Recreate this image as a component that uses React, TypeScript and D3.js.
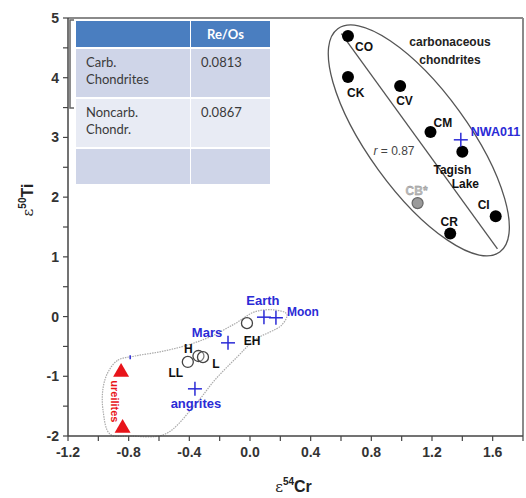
import React from 'react'
import * as d3 from 'd3'

// carbonaceous chondrites (black dots)
const carbNames = ['CO', 'CK', 'CV', 'CM', 'Tagish Lake', 'CI', 'CR']
const carbCr = [0.646, 0.646, 0.99, 1.19, 1.40, 1.62, 1.32]
const carbTi = [4.70, 4.01, 3.86, 3.09, 2.76, 1.68, 1.39]

// CB* (grey)
const cbCr = [1.105]
const cbTi = [1.90]

// ordinary / enstatite chondrites (open circles)
const ocNames = ['EH', 'H', 'L', 'LL']
const ocCr = [-0.02, -0.34, -0.31, -0.41]
const ocTi = [-0.11, -0.66, -0.68, -0.76]

// planetary bodies & achondrites (blue crosses)
const bodyNames = ['NWA011', 'Earth', 'Moon', 'Mars', 'angrites', '']
const bodyCr = [1.39, 0.092, 0.171, -0.145, -0.363, -0.79]
const bodyTi = [2.96, -0.01, -0.02, -0.44, -1.21, -0.68]

// ureilites (red triangles)
const ureCr = [-0.85, -0.84]
const ureTi = [-0.93, -1.87]

// ellipse around carbonaceous chondrites: major axis end points
const ellipseCr = [0.579, 1.647]
const ellipseTi = [4.82, 1.08]

// outline around the inner solar system group
const hullCr = [-0.936, -0.871, -0.758, -0.594, -0.429, -0.264, -0.10, 0.032, 0.164, 0.243, 0.21, 0.032, -0.086, -0.231, -0.363, -0.561, -0.79, -0.923, -0.969, -0.969]
const hullTi = [-0.93, -0.73, -0.66, -0.59, -0.49, -0.34, -0.12, 0.08, 0.11, 0.04, -0.14, -0.39, -0.68, -1.06, -1.48, -1.97, -2.0, -1.97, -1.57, -1.20]

const xTicks = [-1.2, -0.8, -0.4, 0.0, 0.4, 0.8, 1.2, 1.6]
const yTicks = [-2, -1, 0, 1, 2, 3, 4, 5]

// table
const tableHeader = ['', 'Re/Os']
const tableRows = [
  [['Carb.', 'Chondrites'], ['0.0813']],
  [['Noncarb.', 'Chondr.'], ['0.0867']],
  [[''], ['']],
]

// label offsets (px) relative to their point
const carbLabel: Record<string, [number, number, string][]> = {
  CO: [[7, 15, 'start']],
  CK: [[-1, 20, 'start']],
  CV: [[-4, 19, 'start']],
  CM: [[3, -5, 'start']],
  'Tagish Lake': [[-10, 22, 'middle'], [3, 36, 'middle']],
  CI: [[-12, -7, 'middle']],
  CR: [[-1, -8, 'middle']],
}
const ocLabel: Record<string, [number, number, string]> = {
  EH: [5, 22, 'middle'],
  H: [-10, -3, 'middle'],
  L: [13, 11, 'middle'],
  LL: [-12, 15, 'middle'],
}
const bodyLabel: Record<string, [number, number, string, number]> = {
  NWA011: [10, -4, 'start', 12.5],
  Earth: [-1, -12, 'middle', 13],
  Moon: [11, -2, 'start', 12],
  Mars: [-21, -6, 'middle', 13],
  angrites: [1, 19, 'middle', 13],
}

const W = 526
const H = 498
const BLUE = '#2b2bd6'
const RED = '#e8141a'
const AX = '#444'
const FONT = 'Liberation Sans, Arial, sans-serif'

const App = () => {
  const x = d3.scaleLinear().domain([-1.2, 1.8]).range([68, 523])
  const y = d3.scaleLinear().domain([-2, 5]).range([436, 18])
  const left = x(-1.2)
  const right = x(1.8)
  const top = y(5)
  const bottom = y(-2)

  const xMinor = d3.range(-1.2, 1.81, 0.2)
  const yMinor = d3.range(-2, 5.01, 0.5)

  // ellipse from its axis end points
  const ex0 = x(ellipseCr[0]), ey0 = y(ellipseTi[0])
  const ex1 = x(ellipseCr[1]), ey1 = y(ellipseTi[1])
  const ecx = (ex0 + ex1) / 2
  const ecy = (ey0 + ey1) / 2
  const erx = Math.hypot(ex1 - ex0, ey1 - ey0) / 2
  const eAngle = (Math.atan2(ey1 - ey0, ex1 - ex0) * 180) / Math.PI

  const hull = d3
    .line<number>()
    .x((d) => x(hullCr[d]))
    .y((d) => y(hullTi[d]))
    .curve(d3.curveCatmullRomClosed.alpha(0.5))(d3.range(hullCr.length))

  const tri = d3.symbol().type(d3.symbolTriangle).size(110)()

  // table geometry
  const tx = left + 8
  const colW = [115, 80]
  const rowH = [26, 48, 48, 35]

  return (
    <svg width={W} height={H} style={{ position: 'absolute', left: 0, top: 0, background: '#fff' }} fontFamily={FONT}>
      {/* frame */}
      <line x1={left} x2={right} y1={top} y2={top} stroke="#8a8a8a" strokeWidth={2} />
      <line x1={right} x2={right} y1={top} y2={bottom} stroke="#8a8a8a" strokeWidth={2} />

      {/* table */}
      <g>
        {(() => {
          const cells: React.ReactNode[] = []
          let yy = top + 3
          rowH.forEach((h, r) => {
            let xx = tx
            colW.forEach((w, c) => {
              const fill = r === 0 ? '#4a7ec0' : r % 2 === 1 ? '#cfd5e8' : '#e8ebf4'
              cells.push(<rect key={`c${r}${c}`} x={xx} y={yy} width={w - 1} height={h} fill={fill} />)
              const lines = r === 0 ? [tableHeader[c]] : tableRows[r - 1][c]
              lines.forEach((t, k) => {
                if (!t) return
                cells.push(
                  <text
                    key={`t${r}${c}${k}`}
                    x={xx + (r === 0 ? 16 : 10)}
                    y={r === 0 ? yy + 18 : yy + 18 + k * 17}
                    fontFamily="Lato, Open Sans, sans-serif"
                    fontSize={13}
                    fontWeight={r === 0 ? 'bold' : 'normal'}
                    fill={r === 0 ? '#fff' : '#3a3a3a'}
                  >
                    {t}
                  </text>
                )
              })
              xx += w
            })
            yy += h + 2
          })
          return cells
        })()}
      </g>

      {/* bracket at left */}
      <path d={`M${left + 6},${top + 2} H${left + 2} V${top + 90} H${left + 6}`} fill="none" stroke="#666" strokeWidth={1.5} />

      {/* hull around inner solar system */}
      <path d={hull || ''} fill="none" stroke="#aaa" strokeWidth={1.2} strokeDasharray="1.5,1" />

      {/* ellipse */}
      <g transform={`translate(${ecx},${ecy}) rotate(${eAngle})`}>
        <ellipse rx={erx} ry={50} fill="none" stroke="#555" strokeWidth={1.3} />
        <line x1={-erx + 6} x2={erx - 4} y1={0} y2={0} stroke="#555" strokeWidth={1.3} />
      </g>
      <text x={450} y={46} textAnchor="middle" fontSize={12} fontWeight="bold" fill="#222">carbonaceous</text>
      <text x={450} y={64} textAnchor="middle" fontSize={12} fontWeight="bold" fill="#222">chondrites</text>
      <text x={394} y={155} textAnchor="middle" fontSize={12} fill="#444">
        <tspan fontStyle="italic">r</tspan> = 0.87
      </text>

      {/* carbonaceous */}
      {carbNames.map((n, i) => (
        <g key={n}>
          <circle cx={x(carbCr[i])} cy={y(carbTi[i])} r={6} fill="#000" />
          {(n === 'Tagish Lake' ? ['Tagish', 'Lake'] : [n]).map((t, k) => {
            const o = carbLabel[n][k]
            return (
              <text key={t} x={x(carbCr[i]) + o[0]} y={y(carbTi[i]) + o[1]} textAnchor={o[2]} fontSize={12} fontWeight="bold" fill="#111">
                {t}
              </text>
            )
          })}
        </g>
      ))}

      {/* CB* */}
      {cbCr.map((c, i) => (
        <g key={`cb${i}`}>
          <circle cx={x(c)} cy={y(cbTi[i])} r={5.5} fill="#9a9a9a" stroke="#666" strokeWidth={1.2} />
          <text x={x(c) - 1} y={y(cbTi[i]) - 8} textAnchor="middle" fontSize={12} fontWeight="bold" fill="#bbb" stroke="#888" strokeWidth={0.3}>CB*</text>
        </g>
      ))}

      {/* ordinary / enstatite chondrites */}
      {ocNames.map((n, i) => (
        <g key={n}>
          <circle cx={x(ocCr[i])} cy={y(ocTi[i])} r={5.5} fill="#fff" fillOpacity={0.3} stroke="#444" strokeWidth={1.3} />
          <text x={x(ocCr[i]) + ocLabel[n][0]} y={y(ocTi[i]) + ocLabel[n][1]} textAnchor={ocLabel[n][2]} fontSize={12} fontWeight="bold" fill="#111">
            {n}
          </text>
        </g>
      ))}

      {/* blue crosses */}
      {bodyNames.map((n, i) => {
        const cx = x(bodyCr[i])
        const cy = y(bodyTi[i])
        const s = n ? 7 : 2
        const o = bodyLabel[n]
        return (
          <g key={`b${i}`}>
            {n && <line x1={cx - s} x2={cx + s} y1={cy} y2={cy} stroke={BLUE} strokeWidth={1.5} />}
            <line x1={cx} x2={cx} y1={cy - s} y2={cy + s} stroke={BLUE} strokeWidth={1.5} />
            {o && (
              <text x={cx + o[0]} y={cy + o[1]} textAnchor={o[2]} fontSize={o[3]} fontWeight="bold" fill={BLUE}>
                {n}
              </text>
            )}
          </g>
        )
      })}

      {/* ureilites */}
      {ureCr.map((c, i) => (
        <path key={`u${i}`} d={tri || ''} transform={`translate(${x(c)},${y(ureTi[i])})`} fill={RED} />
      ))}
      <text transform={`translate(${x(-0.86) - 9},${y(-1.42)}) rotate(90)`} textAnchor="middle" fontSize={11} fontWeight="bold" fill={RED}>
        ureilites
      </text>

      {/* axes */}
      <line x1={left} x2={left} y1={top} y2={bottom} stroke={AX} strokeWidth={1.5} />
      <line x1={left} x2={right} y1={bottom} y2={bottom} stroke={AX} strokeWidth={1.5} />
      {xMinor.map((t, i) => (
        <line key={`xm${i}`} x1={x(t)} x2={x(t)} y1={bottom} y2={bottom + 5} stroke={AX} strokeWidth={1.2} />
      ))}
      {yMinor.map((t, i) => (
        <line key={`ym${i}`} x1={left - 5} x2={left} y1={y(t)} y2={y(t)} stroke={AX} strokeWidth={1.2} />
      ))}
      {xTicks.map((t) => (
        <text key={`xt${t}`} x={x(t)} y={bottom + 21} textAnchor="middle" fontSize={14} fontWeight="bold" fill="#333">
          {t.toFixed(1)}
        </text>
      ))}
      {yTicks.map((t) => (
        <text key={`yt${t}`} x={left - 9} y={y(t) + 5} textAnchor="end" fontSize={14} fontWeight="bold" fill="#333">
          {t}
        </text>
      ))}

      {/* axis titles */}
      <text x={(left + right) / 2 - 2} y={492} textAnchor="middle" fill="#222" fontSize={16}>
        <tspan fontFamily="DejaVu Serif, serif" fontSize={15}>ε</tspan>
        <tspan fontSize={10} fontWeight="bold" dy={-7}>54</tspan>
        <tspan fontWeight="bold" dy={7}>Cr</tspan>
      </text>
      <text transform={`translate(33,${(top + bottom) / 2 - 27}) rotate(-90)`} textAnchor="middle" fill="#222" fontSize={16}>
        <tspan fontFamily="DejaVu Serif, serif" fontSize={15}>ε</tspan>
        <tspan fontSize={10} fontWeight="bold" dy={-7}>50</tspan>
        <tspan fontWeight="bold" dy={7}>Ti</tspan>
      </text>
    </svg>
  )
}

export default App
